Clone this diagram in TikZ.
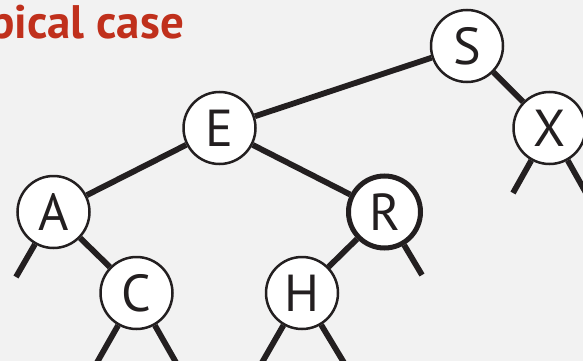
\documentclass[tikz,border=0pt]{standalone}
\usepackage{fontspec}
\setmainfont{PT Sans}
\definecolor{bg}{HTML}{F2F2F2}
\definecolor{titlecol}{HTML}{C0301C}
\definecolor{ink}{HTML}{231F20}
\begin{document}
\begin{tikzpicture}[x=1pt,y=-1pt,
  tnode/.style={circle,draw=ink,line width=2.5pt,fill=white,minimum size=72pt,inner sep=0pt,
    font=\fontsize{52}{52}\selectfont,text=ink},
  rnode/.style={tnode,line width=5pt},
  edge/.style={draw=ink,line width=5.8pt}]
\useasboundingbox (0,0) rectangle (583,361);
\fill[bg] (0,0) rectangle (583,361);
\clip (0,0) rectangle (583,361);
\node[anchor=base west,text=titlecol,font=\bfseries\fontsize{47}{47}\selectfont,inner sep=0pt] (title) at (-11,39) {pical case};
\node[tnode] (S) at (467,46) {S};
\node[tnode] (E) at (219.5,128) {E};
\node[tnode] (X) at (549.5,128) {X};
\node[tnode] (A) at (53.5,212) {A};
\node[rnode] (R) at (384.5,212) {R};
\node[tnode] (C) at (136.5,293) {C};
\node[tnode] (H) at (302,293) {H};
\coordinate (Al) at (16,277);
\coordinate (Rr) at (422,275);
\coordinate (Xl) at (513,193);
\coordinate (Xr) at (590,200);
\coordinate (Cl) at (95,366);
\coordinate (Cr) at (178,366);
\coordinate (Hl) at (260,366);
\coordinate (Hr) at (346,366);
\draw[edge] (S) -- (E);
\draw[edge] (S) -- (X);
\draw[edge] (E) -- (A);
\draw[edge] (E) -- (R);
\draw[edge] (A) -- (C);
\draw[edge] (R) -- (H);
\draw[edge] (A) -- (Al);
\draw[edge] (R) -- (Rr);
\draw[edge] (X) -- (Xl);
\draw[edge] (X) -- (Xr);
\draw[edge] (C) -- (Cl);
\draw[edge] (C) -- (Cr);
\draw[edge] (H) -- (Hl);
\draw[edge] (H) -- (Hr);
\end{tikzpicture}
\end{document}
